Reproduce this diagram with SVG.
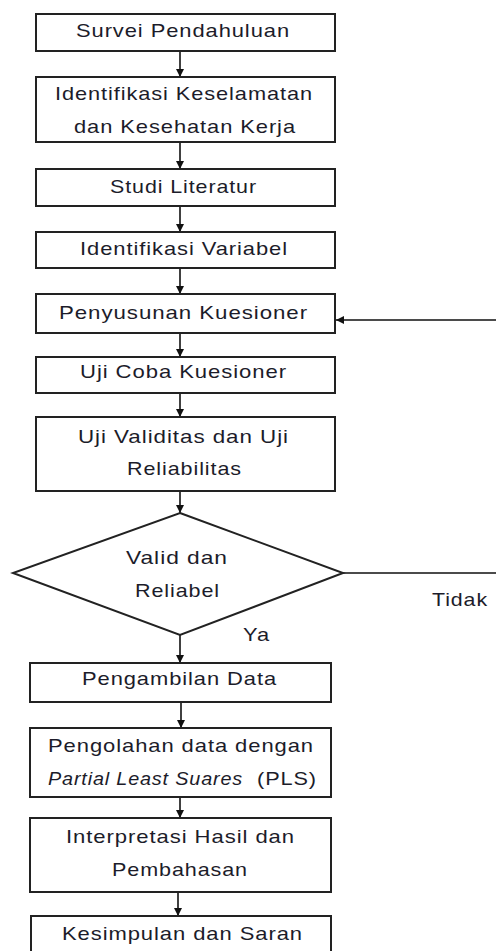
<svg xmlns="http://www.w3.org/2000/svg" width="496" height="951" viewBox="0 0 496 951">
<defs>
<style>
.box{fill:#fff;stroke:#222;stroke-width:2}
.t{font-family:"Liberation Sans",Arial,sans-serif;font-size:19px;letter-spacing:0.8px;fill:#1c1c2a}
.ln{fill:none;stroke:#111;stroke-width:1.6}
</style>
<marker id="ah" viewBox="0 0 10 10" refX="10" refY="5" markerWidth="8" markerHeight="8" markerUnits="userSpaceOnUse" orient="auto">
<path d="M0,0 L10,5 L0,10 z" fill="#111"/>
</marker>
</defs>
<rect width="496" height="951" fill="#fff"/>
<g id="connectors">
<line class="ln" x1="180" y1="51" x2="180" y2="77" marker-end="url(#ah)"/>
<line class="ln" x1="180" y1="142" x2="180" y2="169" marker-end="url(#ah)"/>
<line class="ln" x1="180" y1="206" x2="180" y2="232" marker-end="url(#ah)"/>
<line class="ln" x1="180" y1="268" x2="180" y2="294" marker-end="url(#ah)"/>
<line class="ln" x1="180" y1="333" x2="180" y2="357" marker-end="url(#ah)"/>
<line class="ln" x1="180" y1="393" x2="180" y2="417" marker-end="url(#ah)"/>
<line class="ln" x1="180" y1="491" x2="180" y2="513" marker-end="url(#ah)"/>
<line class="ln" x1="180" y1="635" x2="180" y2="663" marker-end="url(#ah)"/>
<line class="ln" x1="181" y1="702" x2="181" y2="728" marker-end="url(#ah)"/>
<line class="ln" x1="180" y1="797" x2="180" y2="818" marker-end="url(#ah)"/>
<line class="ln" x1="178" y1="892" x2="178" y2="916" marker-end="url(#ah)"/>
<path class="ln" d="M343,573 H500 V320 H336" marker-end="url(#ah)"/>
<text class="t" x="432" y="606" textLength="56" lengthAdjust="spacingAndGlyphs">Tidak</text>
<text class="t" x="243" y="641" textLength="27" lengthAdjust="spacingAndGlyphs">Ya</text>
</g>
<g id="n1">
<rect class="box" x="36" y="14" width="299" height="37"/>
<text class="t" x="76" y="37" textLength="214" lengthAdjust="spacingAndGlyphs">Survei Pendahuluan</text>
</g>
<g id="n2">
<rect class="box" x="36" y="77" width="299" height="65"/>
<text class="t" x="55" y="100" textLength="258" lengthAdjust="spacingAndGlyphs">Identifikasi Keselamatan</text>
<text class="t" x="74" y="133" textLength="222" lengthAdjust="spacingAndGlyphs">dan Kesehatan Kerja</text>
</g>
<g id="n3">
<rect class="box" x="36" y="169" width="299" height="37"/>
<text class="t" x="110" y="193" textLength="147" lengthAdjust="spacingAndGlyphs">Studi Literatur</text>
</g>
<g id="n4">
<rect class="box" x="36" y="232" width="299" height="36"/>
<text class="t" x="80" y="255" textLength="208" lengthAdjust="spacingAndGlyphs">Identifikasi Variabel</text>
</g>
<g id="n5">
<rect class="box" x="36" y="294" width="299" height="39"/>
<text class="t" x="59" y="319" textLength="249" lengthAdjust="spacingAndGlyphs">Penyusunan Kuesioner</text>
</g>
<g id="n6">
<rect class="box" x="36" y="357" width="299" height="36"/>
<text class="t" x="80" y="378" textLength="207" lengthAdjust="spacingAndGlyphs">Uji Coba Kuesioner</text>
</g>
<g id="n7">
<rect class="box" x="36" y="417" width="299" height="74"/>
<text class="t" x="78" y="443" textLength="211" lengthAdjust="spacingAndGlyphs">Uji Validitas dan Uji</text>
<text class="t" x="127" y="475" textLength="115" lengthAdjust="spacingAndGlyphs">Reliabilitas</text>
</g>
<g id="n8">
<polygon class="box" points="180,513 343,573 180,635 13,573"/>
<text class="t" x="126" y="564" textLength="102" lengthAdjust="spacingAndGlyphs">Valid dan</text>
<text class="t" x="135" y="597" textLength="85" lengthAdjust="spacingAndGlyphs">Reliabel</text>
</g>
<g id="n9">
<rect class="box" x="30" y="663" width="301" height="39"/>
<text class="t" x="82" y="685" textLength="195" lengthAdjust="spacingAndGlyphs">Pengambilan Data</text>
</g>
<g id="n10">
<rect class="box" x="30" y="728" width="301" height="69"/>
<text class="t" x="48" y="752" textLength="266" lengthAdjust="spacingAndGlyphs">Pengolahan data dengan</text>
<text class="t" x="48" y="785" textLength="195" lengthAdjust="spacingAndGlyphs" font-style="italic">Partial Least Suares</text>
<text class="t" x="257" y="785" textLength="60" lengthAdjust="spacingAndGlyphs">(PLS)</text>
</g>
<g id="n11">
<rect class="box" x="30" y="818" width="301" height="74"/>
<text class="t" x="66" y="843" textLength="229" lengthAdjust="spacingAndGlyphs">Interpretasi Hasil dan</text>
<text class="t" x="112" y="876" textLength="136" lengthAdjust="spacingAndGlyphs">Pembahasan</text>
</g>
<g id="n12">
<rect class="box" x="31" y="916" width="300" height="50"/>
<text class="t" x="62" y="940" textLength="241" lengthAdjust="spacingAndGlyphs">Kesimpulan dan Saran</text>
</g>
</svg>
